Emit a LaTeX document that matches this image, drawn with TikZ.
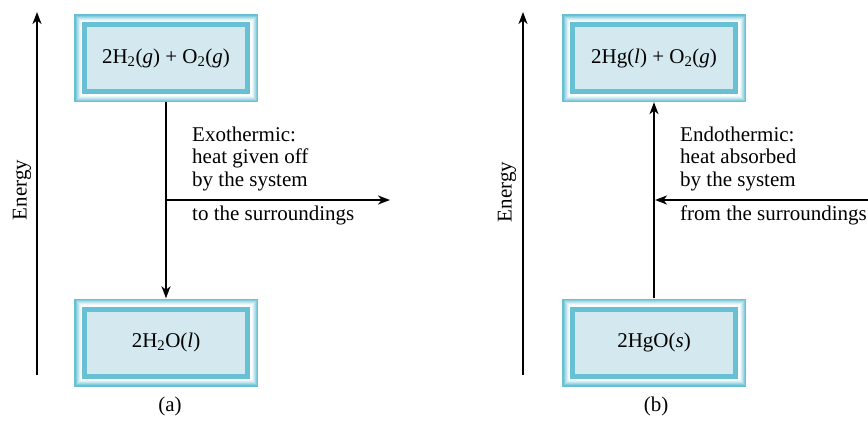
\documentclass[tikz,border=0pt]{standalone}
\usepackage{fontspec}
\setmainfont{Liberation Serif}
\setsansfont{Liberation Serif}
\usetikzlibrary{arrows.meta,calc}
\definecolor{tealband}{RGB}{104,192,212}
\definecolor{boxfill}{RGB}{211,233,239}
\tikzset{
  txt/.style={font=\rmfamily\fontsize{21}{21}\selectfont},
  statebox/.style={txt, minimum width=184pt, minimum height=88pt, inner sep=0pt,
    path picture={
      \fill[tealband] (path picture bounding box.south west) rectangle (path picture bounding box.north east);
      \foreach \i/\p in {1.5/80,2.5/60,3.5/42,4.5/26,5.5/12,6.5/0}{
        \fill[tealband!\p!white] ($(path picture bounding box.south west)+(\i pt,\i pt)$) rectangle ($(path picture bounding box.north east)-(\i pt,\i pt)$);}
      \fill[tealband] ($(path picture bounding box.south west)+(8pt,8pt)$) rectangle ($(path picture bounding box.north east)-(8pt,8pt)$);
      \fill[boxfill] ($(path picture bounding box.south west)+(13pt,13pt)$) rectangle ($(path picture bounding box.north east)-(13pt,13pt)$);
    }},
  axisline/.style={line width=1.8pt, -{Stealth[length=12pt,width=9pt,inset=3.5pt]}},
  flow/.style={line width=1.8pt, -{Stealth[length=12pt,width=9pt,inset=3.5pt]}},
  lbl/.style={txt, anchor=base west, inner sep=0pt},
}
\begin{document}
\begin{tikzpicture}[x=1pt,y=-1pt]
\useasboundingbox (0,0) rectangle (868,423);
% boxes
\node[statebox] (a1) at (166,58) {2H\textsubscript{2}(\textit{g}) + O\textsubscript{2}(\textit{g})};
\node[statebox] (a2) at (166,342.5) {2H\textsubscript{2}O(\textit{l})};
\node[statebox] (b1) at (654,58) {2Hg(\textit{l}) + O\textsubscript{2}(\textit{g})};
\node[statebox] (b2) at (654,342.5) {2HgO(\textit{s})};
% axes
\coordinate (axa0) at (37,375); \coordinate (axa1) at (37,12);
\draw[axisline] (axa0) -- (axa1);
\node[txt, rotate=90] (ea) at (22,190) {Energy};
\coordinate (axb0) at (523,375); \coordinate (axb1) at (523,12);
\draw[axisline] (axb0) -- (axb1);
\node[txt, rotate=90] (eb) at (507,192) {Energy};
% (a) arrows
\draw[flow] (a1.south) -- (a2.north);
\coordinate (ha0) at (166,200); \coordinate (ha1) at (390,200);
\draw[flow] (ha0) -- (ha1);
\node[lbl] (ta1) at (192,141) {Exothermic:};
\node[lbl] (ta2) at (192,163.5) {heat given off};
\node[lbl] (ta3) at (192,186) {by the system};
\node[lbl] (ta4) at (192,220) {to the surroundings};
% (b) arrows
\draw[flow] (b2.north) -- (b1.south);
\coordinate (hb0) at (868,200); \coordinate (hb1) at (655,200);
\draw[flow] (hb0) -- (hb1);
\node[lbl] (tb1) at (680,141) {Endothermic:};
\node[lbl] (tb2) at (680,163.5) {heat absorbed};
\node[lbl] (tb3) at (680,186) {by the system};
\node[lbl] (tb4) at (680,220) {from the surroundings};
% captions
\node[txt] (capa) at (170,406) {(a)};
\node[txt] (capb) at (656,406) {(b)};
\end{tikzpicture}
\end{document}
